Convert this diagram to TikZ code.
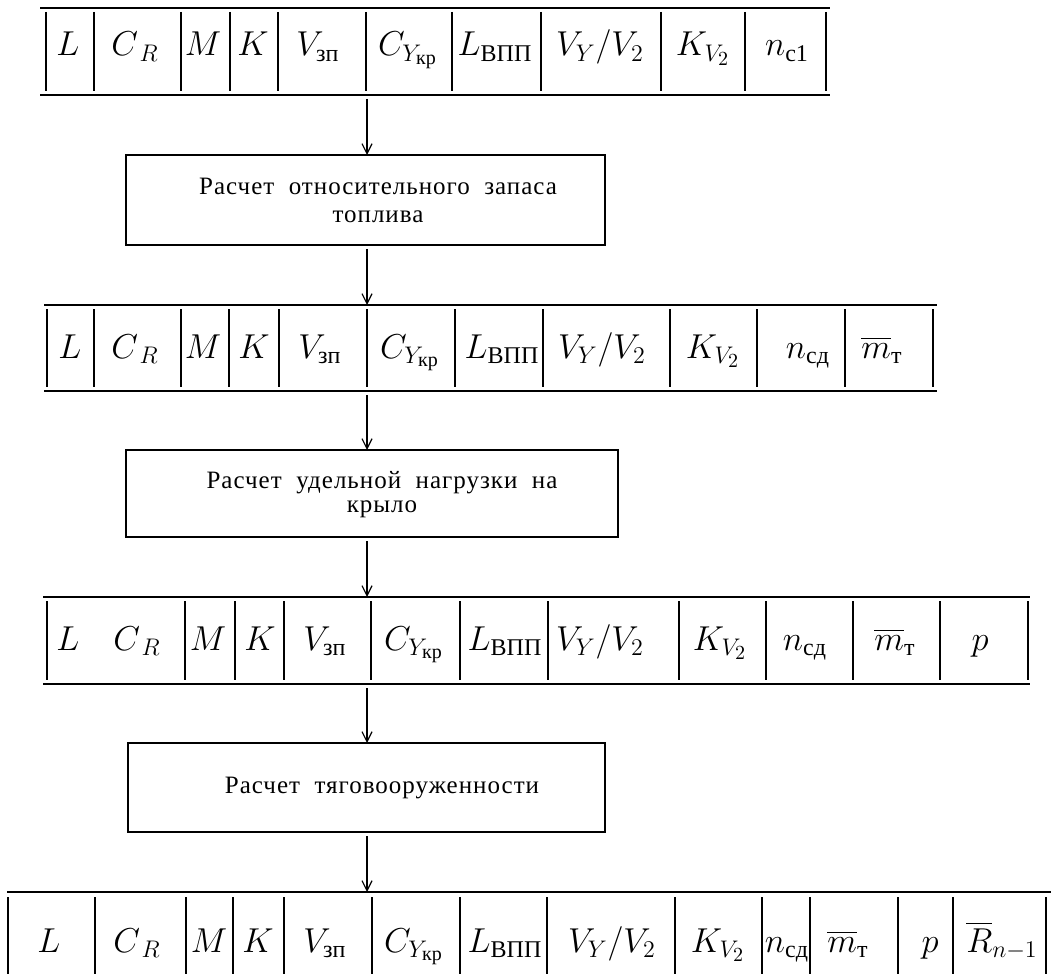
\documentclass[tikz,border=0pt]{standalone}
\usepackage{amsmath}
\usepackage{fontspec}
\setmainfont{Liberation Serif}
\newfontfamily\boxfont[LetterSpace=4,WordSpace=2]{Liberation Serif}
\usetikzlibrary{arrows.meta,fit}
\DeclareMathSizes{16}{16}{12}{10}
\newcommand{\labL}{$L$}
\newcommand{\labCR}{$C_{\,R}$}
\newcommand{\labM}{$M$}
\newcommand{\labK}{$K$}
\newcommand{\labVz}{$V_{\text{зп}}$}
\newcommand{\labCY}{$C_{Y_{\text{кр}}}$}
\newcommand{\labLv}{$L_{\text{ВПП}}$}
\newcommand{\labVV}{$V_Y/V_2$}
\newcommand{\labKV}{$K_{V_2}$}
\newcommand{\labnc}{$n_{\text{с1}}$}
\newcommand{\labnd}{$n_{\text{сд}}$}
\newcommand{\labmt}{$\overline{m}_{\text{т}}$}
\newcommand{\labp}{$p$}
\newcommand{\labR}{$\overline{R}_{n-1}$}
\begin{document}
\begin{tikzpicture}[x=0.5pt,y=-0.5pt,
  hl/.style={line width=1.2pt},
  vl/.style={line width=0.9pt},
  lab/.style={anchor=base,inner sep=0pt,font=\fontsize{16}{18}\selectfont},
  frame/.style={inner sep=0pt,outer sep=0pt},
  procbox/.style={draw,line width=1pt,inner sep=0pt,outer sep=0pt},
  proctext/.style={align=center,inner sep=0pt,font=\boxfont\fontsize{12.5}{14}\selectfont},
  arr/.style={line width=0.6pt,-{Straight Barb[length=5pt,width=5pt]},shorten <=2pt}]
\path[use as bounding box] (0,0) rectangle (1051,974);
\coordinate (ax) at (367,0);

% ---- row 1
\node[frame,fit={(40,8) (830,95)}] (r1) {};
\draw[hl] (r1.north west) -- (r1.north east) (r1.south west) -- (r1.south east);
\foreach \x in {46,94,181,230,278,366,452,541,661,745,826} \draw[vl] (\x,12) -- (\x,91);
\foreach \x/\t [count=\i] in {68/\labL,135/\labCR,203/\labM,253/\labK,318/\labVz,408/\labCY,495/\labLv,600/\labVV,703/\labKV,787/\labnc}
  \node[lab] (ra\i) at (\x,56) {\t};

% ---- box 1
\node[procbox,fit={(126,155) (605,245)}] (p1) {};
\node[proctext] (t1) at (378,200) {Расчет относительного запаса\\топлива};

% ---- row 2
\node[frame,fit={(44,305) (937,391)}] (r2) {};
\draw[hl] (r2.north west) -- (r2.north east) (r2.south west) -- (r2.south east);
\foreach \x in {47,94,181,229,279,367,455,543,670,757,845,933} \draw[vl] (\x,309) -- (\x,387);
\foreach \x/\t [count=\i] in {70/\labL,135/\labCR,203/\labM,254/\labK,320/\labVz,410/\labCY,502/\labLv,602/\labVV,713/\labKV,808/\labnd,882/\labmt}
  \node[lab] (rb\i) at (\x,358) {\t};

% ---- box 2
\node[procbox,fit={(126,450) (618,537)}] (p2) {};
\node[proctext,font=\boxfont\fontsize{12.5}{12}\selectfont] (t2) at (382,495) {Расчет удельной нагрузки на\\крыло};

% ---- row 3
\node[frame,fit={(43,597) (1030,684)}] (r3) {};
\draw[hl] (r3.north west) -- (r3.north east) (r3.south west) -- (r3.south east);
\foreach \x in {47,185,235,284,371,460,548,679,766,853,940,1028} \draw[vl] (\x,601) -- (\x,680);
\foreach \x/\t [count=\i] in {68/\labL,137/\labCR,208/\labM,260/\labK,325/\labVz,414/\labCY,505/\labLv,600/\labVV,720/\labKV,805/\labnd,895/\labmt,980/\labp}
  \node[lab] (rc\i) at (\x,650) {\t};

% ---- box 3
\node[procbox,fit={(128,743) (605,832)}] (p3) {};
\node[proctext] (t3) at (382,788) {Расчет тяговооруженности};

% ---- row 4
\node[frame,fit={(7,892) (1051,974)}] (r4) {};
\draw[hl] (r4.north west) -- (r4.north east);
\foreach \x in {8,95,186,233,284,372,460,547,675,762,810,898,953,1046} \draw[vl] (\x,897) -- (\x,974);
\foreach \x/\t [count=\i] in {49/\labL,137/\labCR,209/\labM,258/\labK,325/\labVz,414/\labCY,505/\labLv,612/\labVV,718/\labKV,787/\labnd,848/\labmt,930/\labp,1002/\labR}
  \node[lab] (rd\i) at (\x,952) {\t};

% ---- connectors
\draw[arr] (r1.south -| ax) -- (p1.north -| ax);
\draw[arr] (p1.south -| ax) -- (r2.north -| ax);
\draw[arr] (r2.south -| ax) -- (p2.north -| ax);
\draw[arr] (p2.south -| ax) -- (r3.north -| ax);
\draw[arr] (r3.south -| ax) -- (p3.north -| ax);
\draw[arr] (p3.south -| ax) -- (r4.north -| ax);
\end{tikzpicture}
\end{document}
